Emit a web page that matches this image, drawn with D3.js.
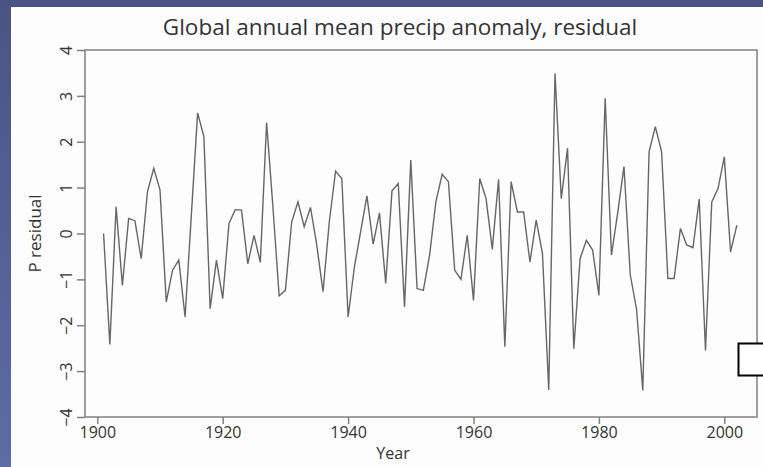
<!DOCTYPE html>
<html>
<head>
<meta charset="utf-8">
<script src="https://cdn.jsdelivr.net/npm/d3@7"></script>
<style>
  body { margin: 0; padding: 0; overflow: hidden; }
  svg { display: block; }
</style>
</head>
<body>
<script>
// residuals, one per year 1901-2002
let years = d3.range(1901, 2003);
let residuals = [
    0.0, -2.42, 0.58, -1.13, 0.33, 0.28, -0.55, 0.91, 1.42, 0.95,
    -1.49, -0.8, -0.58, -1.82, 0.4, 2.63, 2.11, -1.64, -0.58, -1.42,
    0.22, 0.52, 0.51, -0.66, -0.04, -0.63, 2.42, 0.6, -1.36, -1.24,
    0.25, 0.69, 0.15, 0.57, -0.25, -1.27, 0.25, 1.36, 1.2, -1.82,
    -0.73, 0.04, 0.82, -0.23, 0.45, -1.09, 0.93, 1.09, -1.6, 1.6,
    -1.2, -1.24, -0.47, 0.69, 1.29, 1.13, -0.8, -1.0, -0.04, -1.46,
    1.2, 0.76, -0.34, 1.18, -2.47, 1.13, 0.47, 0.47, -0.62, 0.29,
    -0.44, -3.41, 3.49, 0.76, 1.86, -2.51, -0.55, -0.15, -0.36, -1.35,
    2.95, -0.47, 0.45, 1.46, -0.9, -1.64, -3.42, 1.78, 2.33, 1.78,
    -0.98, -0.98, 0.11, -0.25, -0.31, 0.75, -2.55, 0.69, 0.98, 1.67,
    -0.4, 0.18
];
let xTicks = [1900, 1920, 1940, 1960, 1980, 2000];
let yTicks = [-4, -3, -2, -1, 0, 1, 2, 3, 4];

let width = 763, height = 467;
let plotLeft = 85, plotRight = 757, plotTop = 50, plotBottom = 417;
let font = "'Open Sans', 'DejaVu Sans', sans-serif";

let svg = d3.select("body")
    .append("svg")
    .attr("width", width)
    .attr("height", height);

// slide background
let grad = svg.append("defs").append("linearGradient")
    .attr("id", "bg")
    .attr("x1", 0).attr("y1", 0).attr("x2", 0).attr("y2", 1);
grad.append("stop").attr("offset", "0%").attr("stop-color", "#4a5484");
grad.append("stop").attr("offset", "100%").attr("stop-color", "#5d6ca6");

svg.append("rect")
    .attr("width", width)
    .attr("height", height)
    .attr("fill", "url(#bg)");

svg.append("rect")
    .attr("x", 11)
    .attr("y", 7)
    .attr("width", width - 11)
    .attr("height", height - 7)
    .attr("fill", "#fdfdfd");

let x = d3.scaleLinear()
    .domain([1900, 2000])
    .range([97.3, 724.3]);

let y = d3.scaleLinear()
    .domain([-4, 4])
    .range([plotBottom, plotTop]);

// frame
svg.append("rect")
    .attr("x", plotLeft)
    .attr("y", plotTop)
    .attr("width", plotRight - plotLeft)
    .attr("height", plotBottom - plotTop)
    .attr("fill", "none")
    .attr("stroke", "#808080")
    .attr("stroke-width", 1.5);

let xAxis = svg.append("g")
    .attr("transform", "translate(0," + plotBottom + ")")
    .call(d3.axisBottom(x).tickValues(xTicks).tickFormat(d3.format("d")).tickSize(7).tickPadding(3));

let yAxis = svg.append("g")
    .attr("transform", "translate(" + plotLeft + ",0)")
    .call(d3.axisLeft(y).tickValues(yTicks).tickFormat(d3.format("d")).tickSize(8));

[xAxis, yAxis].forEach(function (g) {
    g.select(".domain").remove();
    g.selectAll(".tick line").attr("stroke", "#808080").attr("stroke-width", 1.5);
    g.selectAll("text")
        .attr("fill", "#333")
        .style("font-family", font)
        .style("font-size", "16px");
});

yAxis.selectAll("text")
    .attr("transform", "rotate(-90)")
    .attr("x", 0)
    .attr("y", -13)
    .attr("dy", 0)
    .attr("text-anchor", "middle");

// the series
let line = d3.line()
    .x(function (d, i) { return x(years[i]); })
    .y(function (d) { return y(d); });

svg.append("path")
    .datum(residuals)
    .attr("d", line)
    .attr("fill", "none")
    .attr("stroke", "#666")
    .attr("stroke-width", 1.4)
    .attr("stroke-linejoin", "miter");

// titles
svg.append("text")
    .attr("x", 400)
    .attr("y", 35)
    .attr("text-anchor", "middle")
    .attr("fill", "#333")
    .style("font-family", font)
    .style("font-size", "22.5px")
    .text("Global annual mean precip anomaly, residual");

svg.append("text")
    .attr("x", 393)
    .attr("y", 459)
    .attr("text-anchor", "middle")
    .attr("fill", "#333")
    .style("font-family", font)
    .style("font-size", "16px")
    .text("Year");

svg.append("text")
    .attr("transform", "translate(41," + y(0) + ") rotate(-90)")
    .attr("text-anchor", "middle")
    .attr("fill", "#333")
    .style("font-family", font)
    .style("font-size", "17px")
    .text("P residual");

// small empty box at the right edge
svg.append("rect")
    .attr("x", 738.5)
    .attr("y", 343.5)
    .attr("width", 30)
    .attr("height", 32)
    .attr("fill", "#fff")
    .attr("stroke", "#000")
    .attr("stroke-width", 2);
</script>
</body>
</html>
